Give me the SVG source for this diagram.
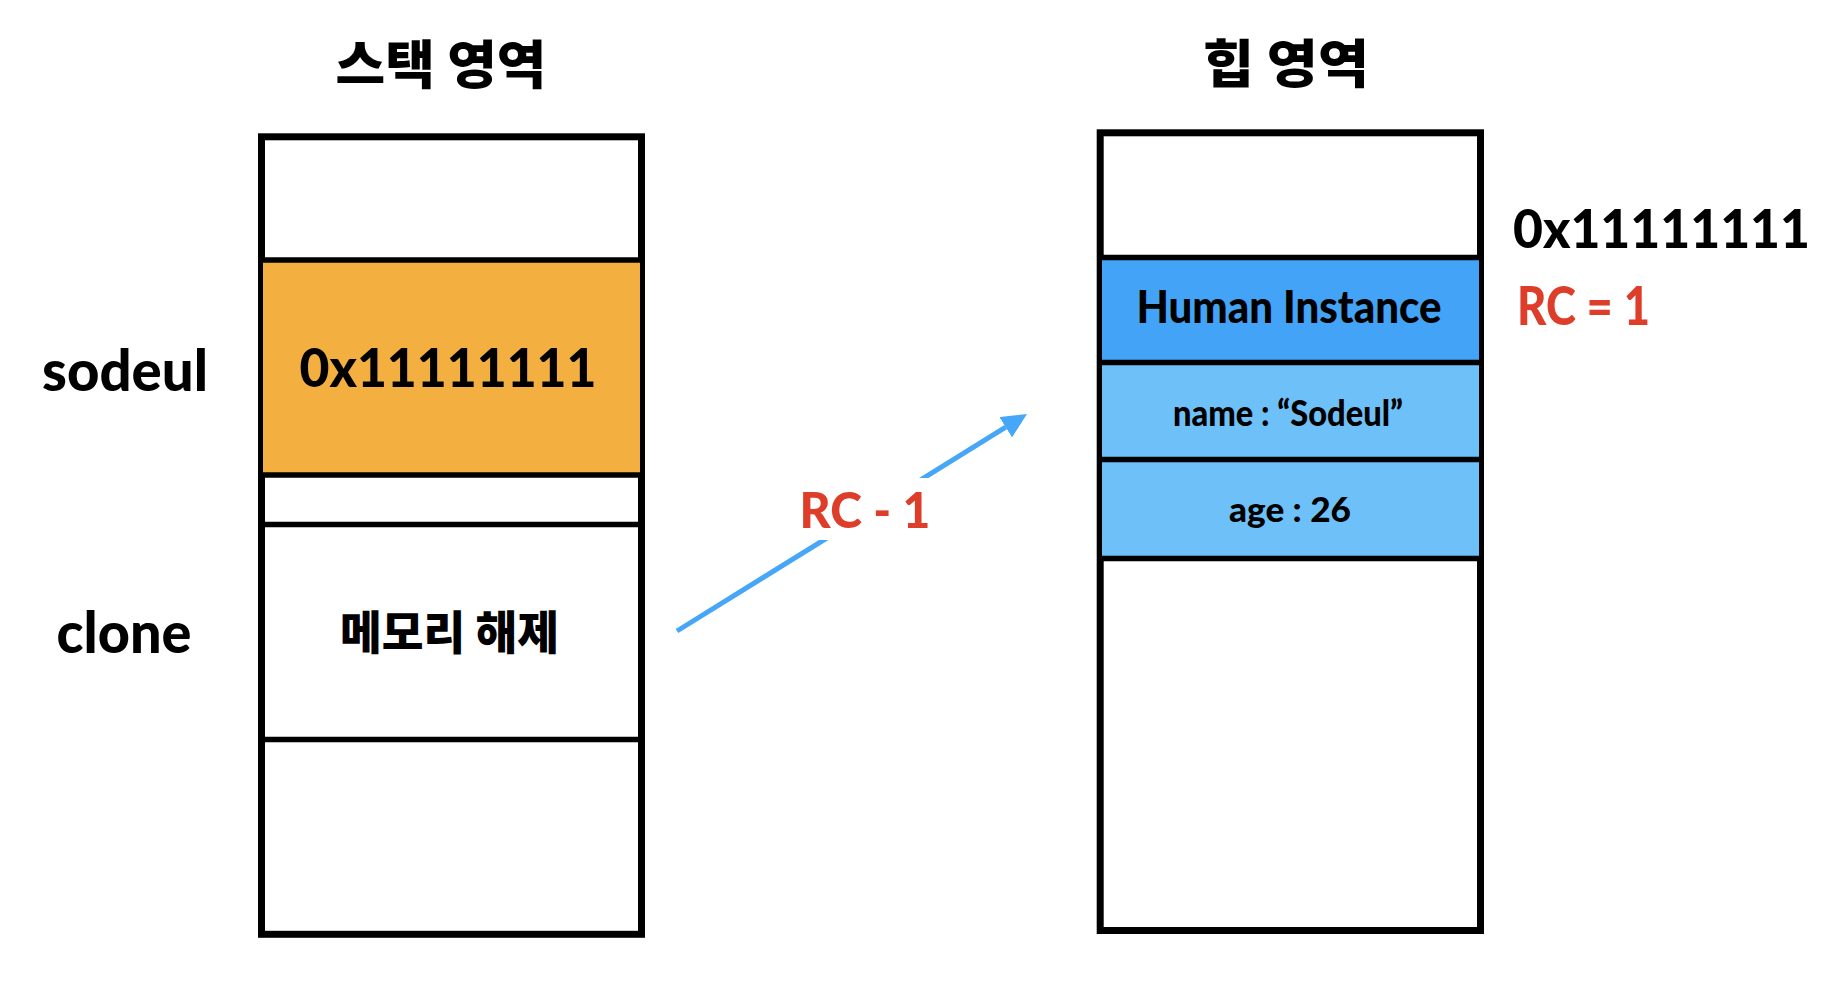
<svg xmlns="http://www.w3.org/2000/svg" width="1844" height="1000" viewBox="0 0 1844 1000">
  <style>
    .bg { fill: #ffffff; }
    .outer { fill: #ffffff; stroke: #000000; stroke-width: 7; }
    .sep { stroke: #000000; stroke-width: 5.5; }
    .kr { font-family: "Noto Sans CJK KR", "Noto Sans", sans-serif; font-weight: 900; fill: #000000; }
    .lat { font-family: "Lato", "Noto Sans", "Noto Sans CJK KR", sans-serif; font-weight: 900; fill: #000000; }
    .red { fill: #DD3D29; }
    .mid { text-anchor: middle; }
    .arrow { stroke: #46A6F7; stroke-width: 5; fill: none; }
  </style>
  <defs>
    <marker id="ah" viewBox="0 0 25 24" refX="0" refY="12" markerWidth="25" markerHeight="24" markerUnits="userSpaceOnUse" orient="auto">
      <path d="M0,0 L25,12 L0,24 z" fill="#46A6F7"/>
    </marker>
  </defs>
  <rect class="bg" x="0" y="0" width="1844" height="1000"/>

  <g id="stack-title">
    <text class="kr mid" x="441" y="84" font-size="52" textLength="211" lengthAdjust="spacingAndGlyphs">스택 영역</text>
  </g>
  <g id="heap-title">
    <text class="kr mid" x="1286" y="83" font-size="52" textLength="166" lengthAdjust="spacingAndGlyphs">힙 영역</text>
  </g>

  <g id="stack">
    <rect class="outer" x="261.5" y="136.8" width="380" height="797.5"/>
    <rect x="263" y="262" width="377" height="212" fill="#F3AF3F"/>
    <line class="sep" x1="261.5" y1="260" x2="641.5" y2="260"/>
    <line class="sep" x1="261.5" y1="475" x2="641.5" y2="475"/>
    <line class="sep" x1="261.5" y1="524.5" x2="641.5" y2="524.5"/>
    <line class="sep" x1="261.5" y1="739.5" x2="641.5" y2="739.5"/>
  </g>
  <g id="stack-sodeul">
    <text class="lat mid" x="448" y="387" font-size="54" textLength="297" lengthAdjust="spacingAndGlyphs">0x11111111</text>
  </g>
  <g id="stack-clone">
    <text class="kr mid" x="449.5" y="649" font-size="46" textLength="219" lengthAdjust="spacingAndGlyphs">메모리 해제</text>
  </g>
  <g id="label-sodeul">
    <text class="lat mid" x="125" y="391" font-size="58" textLength="166" lengthAdjust="spacingAndGlyphs">sodeul</text>
  </g>
  <g id="label-clone">
    <text class="lat mid" x="124" y="653" font-size="58" textLength="135" lengthAdjust="spacingAndGlyphs">clone</text>
  </g>

  <g id="heap">
    <rect class="outer" x="1100.2" y="132.8" width="380.3" height="797.7"/>
    <rect x="1102" y="258" width="377" height="103" fill="#42A3F7"/>
    <rect x="1102" y="362" width="377" height="196" fill="#6EC0F8"/>
    <line class="sep" x1="1100.2" y1="257.5" x2="1480.5" y2="257.5"/>
    <line class="sep" x1="1100.2" y1="362.5" x2="1480.5" y2="362.5"/>
    <line class="sep" x1="1100.2" y1="459.5" x2="1480.5" y2="459.5"/>
    <line class="sep" x1="1100.2" y1="558.5" x2="1480.5" y2="558.5"/>
  </g>
  <g id="heap-instance">
    <text class="lat mid" x="1289" y="323" font-size="45" textLength="305" lengthAdjust="spacingAndGlyphs">Human Instance</text>
  </g>
  <g id="heap-name">
    <text class="lat mid" x="1288" y="426" font-size="36" textLength="230" lengthAdjust="spacingAndGlyphs">name : “Sodeul”</text>
  </g>
  <g id="heap-age">
    <text class="lat mid" x="1290" y="522" font-size="35" textLength="122" lengthAdjust="spacingAndGlyphs">age : 26</text>
  </g>
  <g id="heap-address">
    <text class="lat" x="1513" y="248" font-size="53" textLength="297" lengthAdjust="spacingAndGlyphs">0x11111111</text>
  </g>
  <g id="heap-rc">
    <text class="lat red" x="1517" y="325" font-size="53" textLength="133" lengthAdjust="spacingAndGlyphs">RC = 1</text>
  </g>

  <g id="connectors">
    <line class="arrow" x1="677" y1="631" x2="1005.7" y2="427.2" marker-end="url(#ah)"/>
    <rect x="793" y="478" width="144" height="62" fill="#ffffff"/>
    <text class="lat red mid" x="865" y="528" font-size="49" textLength="131" lengthAdjust="spacingAndGlyphs">RC - 1</text>
  </g>
</svg>
